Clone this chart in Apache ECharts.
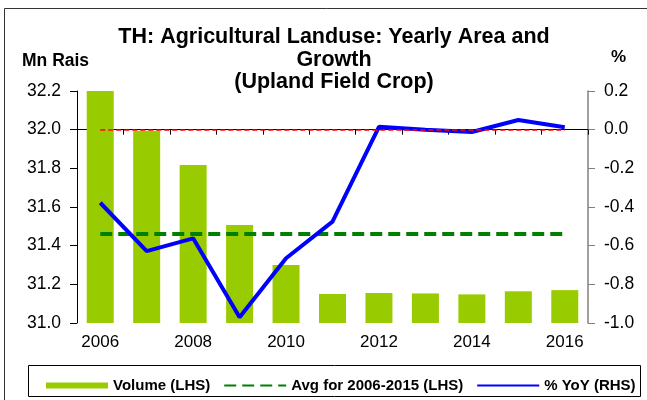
<!DOCTYPE html>
<html>
<head>
<meta charset="utf-8">
<script src="https://cdn.jsdelivr.net/npm/echarts@6/dist/echarts.min.js"></script>
<style>
  html, body { margin: 0; padding: 0; background: #fff; }
  #chart { width: 647px; height: 400px; }
</style>
</head>
<body>
<div id="chart"></div>
<script>
  // values
  var years = ['2006', '2007', '2008', '2009', '2010', '2011', '2012', '2013', '2014', '2015', '2016']
  var volume = [32.2, 31.995, 31.817, 31.507, 31.30, 31.15, 31.155, 31.153, 31.148, 31.164, 31.17]
  var avgLine = [31.46, 31.46, 31.46, 31.46, 31.46, 31.46, 31.46, 31.46, 31.46, 31.46, 31.46]
  var yoy = [-0.378, -0.628, -0.562, -0.97, -0.665, -0.476, 0.015, 0.0, -0.012, 0.05, 0.012]
  var leftTicks = { min: 31.0, max: 32.2, interval: 0.2 }
  var rightTicks = { min: -1.0, max: 0.2, interval: 0.2 }

  var font = 'Liberation Sans, Arial, sans-serif'
  var myChart = echarts.init(document.getElementById('chart'))

  var option = {
    animation: false,
    textStyle: { fontFamily: font },
    title: {
      text: 'TH: Agricultural Landuse: Yearly Area and\nGrowth\n(Upland Field Crop)',
      left: 329,
      top: 21,
      textAlign: 'center',
      textStyle: { fontFamily: font, fontSize: 21.5, fontWeight: 'bold', color: '#000', lineHeight: 22.5 }
    },
    graphic: [
      { type: 'rect', shape: { x: 4.5, y: 8.5, width: 700, height: 420 }, style: { fill: 'none', stroke: '#333', lineWidth: 1 }, silent: true },
      { type: 'rect', shape: { x: 28.5, y: 365.5, width: 612, height: 31 }, style: { fill: 'none', stroke: '#000', lineWidth: 1 }, silent: true },
      { type: 'text', left: 22, top: 52, style: { text: 'Mn Rais', font: 'bold 17.5px ' + font, fill: '#000' } },
      { type: 'text', left: 611, top: 49, style: { text: '%', font: 'bold 17px ' + font, fill: '#000' } }
    ],
    legend: {
      left: 41,
      top: 373,
      itemGap: 13,
      itemWidth: 62,
      itemHeight: 6,
      textStyle: { fontFamily: font, fontSize: 15, fontWeight: 'bold', color: '#000' },
      data: [
        { name: 'Volume (LHS)', icon: 'rect' },
        { name: 'Avg for 2006-2015 (LHS)', itemStyle: { opacity: 0 } },
        { name: '% YoY (RHS)', itemStyle: { opacity: 0 } }
      ]
    },
    grid: { left: 77, right: 59, top: 91, bottom: 77 },
    xAxis: {
      type: 'category',
      data: years,
      axisLine: { lineStyle: { color: '#000', width: 1 } },
      axisTick: { show: true, interval: 0, length: 5, lineStyle: { color: '#000' } },
      axisLabel: { interval: 1, color: '#000', fontSize: 17, margin: 11, fontFamily: font }
    },
    yAxis: [
      {
        type: 'value',
        min: leftTicks.min, max: leftTicks.max, interval: leftTicks.interval,
        splitLine: { show: false },
        axisLine: { show: true, lineStyle: { color: '#000' } },
        axisTick: { show: true, length: 7, lineStyle: { color: '#000' } },
        axisLabel: { color: '#000', fontSize: 17.5, margin: 16, fontFamily: font,
          formatter: function (v) { return v.toFixed(1) } }
      },
      {
        type: 'value',
        position: 'right',
        min: rightTicks.min, max: rightTicks.max, interval: rightTicks.interval,
        splitLine: { show: false },
        axisLine: { show: true, lineStyle: { color: '#808080', width: 1.5 } },
        axisTick: { show: true, length: 7, lineStyle: { color: '#808080' } },
        axisLabel: { color: '#000', fontSize: 17.5, margin: 16, fontFamily: font,
          formatter: function (v) { return v.toFixed(1) } }
      }
    ],
    series: [
      {
        name: 'Volume (LHS)',
        type: 'bar',
        data: volume,
        barWidth: 27,
        itemStyle: { color: '#99cc00' },
        z: 1
      },
      {
        name: 'Avg for 2006-2015 (LHS)',
        type: 'line',
        data: avgLine,
        symbol: 'none',
        lineStyle: { color: '#008000', width: 4, type: [12, 6] },
        itemStyle: { color: '#008000' },
        z: 3
      },
      {
        name: '% YoY (RHS)',
        type: 'line',
        yAxisIndex: 1,
        data: yoy,
        symbol: 'none',
        lineStyle: { color: '#0000ff', width: 4 },
        itemStyle: { color: '#0000ff' },
        z: 4,
        markLine: {
          silent: true,
          symbol: 'none',
          label: { show: false },
          lineStyle: { color: '#ff0000', width: 1.5, type: [5, 3] },
          data: [[{ xAxis: '2006', yAxis: 0 }, { xAxis: '2016', yAxis: 0 }]]
        }
      }
    ]
  }

  myChart.setOption(option)
</script>
</body>
</html>
